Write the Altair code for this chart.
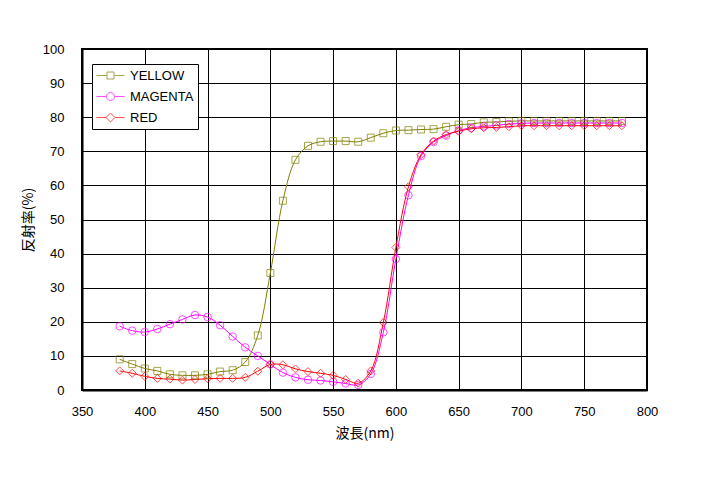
import altair as alt
import pandas as pd

wavelength = list(range(380, 790, 10))

yellow = [9.0, 7.6, 6.3, 5.6, 4.6, 4.3, 4.3, 4.6, 5.4, 5.8, 8.2, 16.0, 34.3, 55.5,
          67.5, 71.6, 72.8, 73.0, 73.0, 72.8, 74.0, 75.3, 76.1, 76.2, 76.4, 76.5,
          77.2, 77.8, 78.0, 78.5, 78.6, 78.8, 78.9, 78.9, 78.9, 78.9, 78.9, 78.9,
          78.9, 78.9, 78.9]
magenta = [18.7, 17.4, 17.0, 17.9, 19.3, 20.7, 22.0, 21.4, 19.0, 15.7, 12.5, 10.0,
           7.5, 5.1, 3.7, 3.0, 2.8, 2.4, 1.9, 1.5, 4.7, 16.9, 38.4, 57.1, 68.6, 72.7,
           74.6, 76.1, 76.9, 77.3, 77.6, 78.0, 78.2, 78.3, 78.3, 78.3, 78.3, 78.3,
           78.3, 78.3, 78.3]
red = [5.6, 4.9, 4.0, 3.4, 3.2, 2.9, 3.1, 3.3, 3.4, 3.4, 3.7, 5.5, 7.5, 7.4, 6.2,
       5.4, 4.9, 4.3, 3.1, 2.0, 5.6, 19.8, 41.8, 59.6, 69.0, 73.0, 74.9, 75.9, 76.6,
       76.9, 77.0, 77.2, 77.5, 77.5, 77.5, 77.5, 77.5, 77.5, 77.5, 77.5, 77.5]

series = ["YELLOW", "MAGENTA", "RED"]
colors = ["#808000", "#FF00FF", "#FF0000"]
shapes = ["square", "circle", "diamond"]
sizes = [49, 64, 81]
legend_paths = [
    "M-2,0H-0.5M0.5,0H2M-0.5,-0.5H0.5V0.5H-0.5Z",
    "M-2,0H-0.57M0.57,0H2M0.57,0A0.57,0.57,0,1,1,-0.57,0A0.57,0.57,0,1,1,0.57,0",
    "M-2,0H-0.64M0.64,0H2M0,-0.64L0.64,0L0,0.64L-0.64,0Z",
]

df = pd.DataFrame({"wl": wavelength, "YELLOW": yellow, "MAGENTA": magenta, "RED": red})
df = df.melt(id_vars="wl", var_name="series", value_name="val")

x = alt.X("wl:Q", title="波長(nm)",
          scale=alt.Scale(domain=[350, 800], nice=False, padding=0, zero=False),
          axis=alt.Axis(values=list(range(350, 801, 50)), labelPadding=15,
                        titlePadding=8, labelFlush=False))
y = alt.Y("val:Q", title="反射率(%)",
          scale=alt.Scale(domain=[0, 100], nice=False, padding=0),
          axis=alt.Axis(values=list(range(0, 101, 10)), labelPadding=18,
                        titlePadding=7, labelFlush=False))

color_nolegend = alt.Color("series:N", scale=alt.Scale(domain=series, range=colors),
                           legend=None)

base = alt.Chart(df)

lines = base.mark_line(interpolate="catmull-rom", strokeWidth=1).encode(
    x=x, y=y, color=color_nolegend, detail="series:N",
    order=alt.Order("wl:Q"),
)

points = base.mark_point(filled=False, strokeWidth=1).encode(
    x=x, y=y,
    color=color_nolegend,
    shape=alt.Shape("series:N", scale=alt.Scale(domain=series, range=shapes), legend=None),
    size=alt.Size("series:N", scale=alt.Scale(domain=series, range=sizes), legend=None),
)

legend_layer = base.transform_filter("false").mark_point(filled=False, strokeWidth=1).encode(
    x=x, y=y,
    color=alt.Color("series:N", scale=alt.Scale(domain=series, range=colors),
                    legend=alt.Legend(
                        title=None, orient="none", legendX=10, legendY=15,
                        symbolSize=196, symbolStrokeWidth=1, symbolFillColor="transparent",
                        symbolOffset=7, labelOffset=12, rowPadding=6, padding=4,
                        strokeColor="black", fillColor="white",
                        labelFont="Liberation Sans", labelFontSize=13, labelColor="black",
                        cornerRadius=0,
                    )),
    shape=alt.Shape("series:N", scale=alt.Scale(domain=series, range=legend_paths)),
)

chart = alt.layer(lines, points, legend_layer).resolve_scale(
    color="independent", shape="independent"
).properties(
    width=565, height=341,
    autosize=alt.AutoSizeParams(type="none"),
    padding={"left": 74, "top": 41, "right": 66, "bottom": 82},
    background="white",
).configure_view(
    stroke="black", strokeWidth=2,
).configure_axis(
    grid=True, gridColor="black", gridWidth=1, gridOpacity=1,
    domainColor="black", domainWidth=2,
    ticks=False, tickSize=0,
    labelFont="Liberation Sans", labelFontSize=13, labelColor="black",
    titleFont="Noto Sans CJK JP", titleFontSize=14, titleFontWeight="normal",
    titleColor="black",
)

chart.save("out.html", embed_options={"renderer": "svg", "actions": False})
